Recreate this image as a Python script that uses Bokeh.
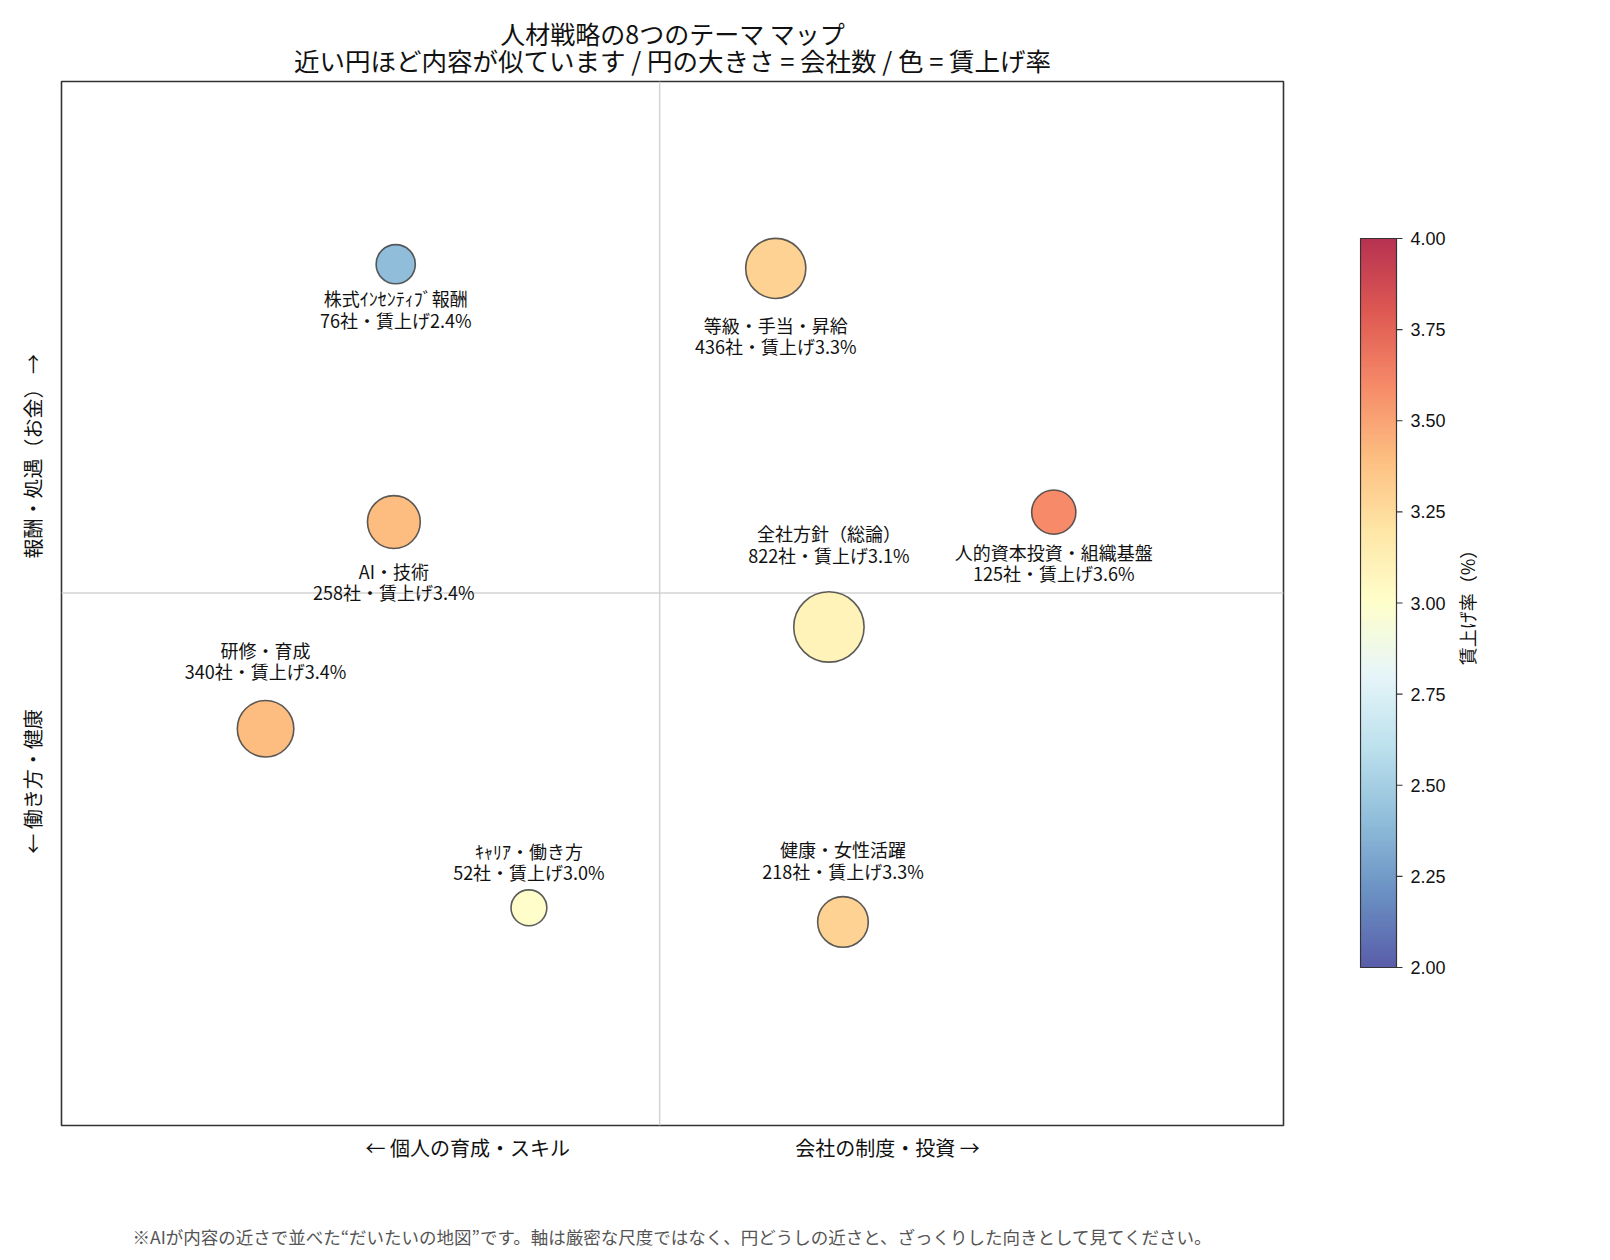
import math
import numpy as np
from bokeh.plotting import figure
from bokeh.models import Range1d, FixedTicker, Title, Span, LinearColorMapper, ColumnDataSource
from bokeh.layouts import row
from bokeh.embed import file_html
from bokeh.resources import INLINE
from bokeh.core.properties import value
from bokeh.palettes import RdYlBu11
from bokeh.transform import linear_cmap

# ---------------- data ----------------
themes = ["株式ｲﾝｾﾝﾃｨﾌﾞ報酬", "等級・手当・昇給", "AI・技術", "人的資本投資・組織基盤",
          "全社方針（総論）", "研修・育成", "ｷｬﾘｱ・働き方", "健康・女性活躍"]
companies = [76, 436, 258, 125, 822, 340, 52, 218]
raise_rates = [2.4, 3.3, 3.4, 3.6, 3.1, 3.4, 3.0, 3.3]
map_x = [-0.432, 0.190, -0.435, 0.645, 0.277, -0.645, -0.214, 0.300]
map_y = [0.630, 0.622, 0.136, 0.155, -0.065, -0.260, -0.603, -0.630]
label_side = ["below", "below", "below", "below", "above", "above", "above", "above"]

x_dir_ticks = [-0.314, 0.373]
x_dir_labels = ["← 個人の育成・スキル", "会社の制度・投資 →"]
y_dir_ticks = [-0.361, 0.262]
y_dir_labels = ["← 働き方・健康", "報酬・処遇（お金） →"]

cb_low, cb_high = 2.0, 4.0
cb_ticks = [2.0, 2.25, 2.5, 2.75, 3.0, 3.25, 3.5, 3.75, 4.0]

title_line1 = "人材戦略の8つのテーマ マップ"
title_line2 = "近い円ほど内容が似ています / 円の大きさ = 会社数 / 色 = 賃上げ率"
footer = "※AIが内容の近さで並べた“だいたいの地図”です。軸は厳密な尺度ではなく、円どうしの近さと、ざっくりした向きとして見てください。"
cb_label = "賃上げ率（%）"

# ---------------- style ----------------
JP = "Noto Sans CJK JP"
TOP, FRAME_W, FRAME_H, BOTTOM = 81, 1222, 1044, 135
X0, X1 = -0.979, 1.021
Y0, Y1 = -1.020, 0.980
LW = 1.6

stops = list(RdYlBu11)  # blue -> red (reversed RdYlBu)
rgb = np.array([[int(h[i:i + 2], 16) for i in (1, 3, 5)] for h in stops], dtype=float)
pos = np.linspace(0, 1, len(stops))
def cmap(t):
    return "#%02x%02x%02x" % tuple(int(round(np.interp(t, pos, rgb[:, k]))) for k in range(3))
palette = [cmap(t) for t in np.linspace(0, 1, 256)]

r_outer = [math.sqrt(33 + 44 * math.sqrt(c)) for c in companies]
sizes = [2 * r - LW for r in r_outer]
ppu_y = FRAME_H / (Y1 - Y0)
label_y = []
for yv, r, side in zip(map_y, r_outer, label_side):
    off = 2.12 * r + 6.8
    label_y.append(yv - (off - 5) / ppu_y if side == "below" else yv + off / ppu_y)
labels = [f"{n}\n{c}社・賃上げ{v:.1f}%" for n, c, v in zip(themes, companies, raise_rates)]

src = ColumnDataSource(dict(x=map_x, y=map_y, size=sizes, rate=raise_rates,
                            ly=label_y, label=labels))

p = figure(frame_width=FRAME_W, frame_height=FRAME_H,
           x_range=Range1d(X0, X1), y_range=Range1d(Y0, Y1),
           toolbar_location=None, output_backend="svg",
           min_border_left=61, min_border_right=17, min_border_top=TOP, min_border_bottom=BOTTOM)
p.xgrid.visible = False
p.ygrid.visible = False
p.outline_line_color = "#333333"
p.outline_line_width = 1.6
p.background_fill_color = "white"
p.border_fill_color = "white"

p.add_layout(Span(location=0, dimension="height", line_color="#d3d3d3", line_width=1.5, level="underlay"))
p.add_layout(Span(location=0, dimension="width", line_color="#d3d3d3", line_width=1.5, level="underlay"))

p.scatter("x", "y", size="size", source=src,
          fill_color=linear_cmap("rate", palette, cb_low, cb_high), fill_alpha=0.8,
          line_color="#404040", line_alpha=0.85, line_width=LW)
p.text("x", "ly", text="label", source=src, text_align="center", text_baseline="middle",
       text_font=value(JP), text_font_size="18px", text_line_height=0.83, text_color="#111111")

for ax, ticks, labs in ((p.xaxis, x_dir_ticks, x_dir_labels), (p.yaxis, y_dir_ticks, y_dir_labels)):
    ax.ticker = FixedTicker(ticks=ticks)
    ax.major_label_overrides = {t: l for t, l in zip(ticks, labs)}
    ax.major_tick_out = 0
    ax.major_tick_in = 0
    ax.minor_tick_line_color = None
    ax.major_tick_line_color = None
    ax.axis_line_color = None
    ax.major_label_text_font = JP
    ax.major_label_text_font_size = "20px"
    ax.major_label_text_color = "#111111"
p.xaxis.major_label_standoff = 7
p.yaxis.major_label_standoff = 14
p.yaxis.major_label_orientation = "vertical"

p.add_layout(Title(text=title_line2, align="center", text_font=JP, text_font_size="25.5px",
                   text_font_style="normal", text_color="#111111", standoff=8), "above")
p.add_layout(Title(text=title_line1, align="center", text_font=JP, text_font_size="25px",
                   text_font_style="normal", text_color="#111111", standoff=-32), "above")
p.add_layout(Title(text=footer, align="center", text_font=JP, text_font_size="17.5px",
                   text_font_style="normal", text_color="#555555", standoff=115), "below")

# ---------------- colorbar (drawn with glyphs, x in pixel units) ----------------
CB_TOP_PX, CB_BOT_PX, CB_W = 238, 967, 36
cb_ppu = (CB_BOT_PX - CB_TOP_PX) / (cb_high - cb_low)
cb_y0 = cb_low - (TOP + FRAME_H - CB_BOT_PX) / cb_ppu
cb_y1 = cb_high + (CB_TOP_PX - TOP) / cb_ppu

cb = figure(frame_width=160, frame_height=FRAME_H, x_range=Range1d(-1, 159), y_range=Range1d(cb_y0, cb_y1),
            x_axis_location=None, y_axis_location=None,
            toolbar_location=None, output_backend="svg",
            min_border_left=59, min_border_top=TOP, min_border_bottom=BOTTOM, min_border_right=20)
cb.xgrid.visible = False
cb.ygrid.visible = False
cb.outline_line_color = None
cb.background_fill_color = "white"
cb.border_fill_color = "white"
mapper = LinearColorMapper(palette=palette, low=cb_low, high=cb_high)
cb.image(image=[np.linspace(cb_low, cb_high, 256).reshape(256, 1)], x=0, y=cb_low, dw=CB_W,
         dh=cb_high - cb_low, color_mapper=mapper, global_alpha=0.8)
cb.quad(left=[0], right=[CB_W], bottom=[cb_low], top=[cb_high], fill_color=None,
        line_color="#333333", line_width=1.2)
cb.segment(x0=[CB_W] * len(cb_ticks), x1=[CB_W + 6] * len(cb_ticks), y0=cb_ticks, y1=cb_ticks,
           line_color="#333333", line_width=1.2)
cb.text(x=[CB_W + 14] * len(cb_ticks), y=cb_ticks, text=[f"{t:.2f}" for t in cb_ticks],
        text_align="left", text_baseline="middle", text_font=value("Liberation Sans"),
        text_font_size="18px", text_color="#111111")
cb.text(x=[106], y=[(cb_low + cb_high) / 2], text=[cb_label], angle=math.pi / 2,
        text_align="center", text_baseline="middle", text_font=value(JP),
        text_font_size="18px", text_color="#111111")

layout = row(p, cb)
open("out.html", "w").write(file_html(layout, INLINE))
